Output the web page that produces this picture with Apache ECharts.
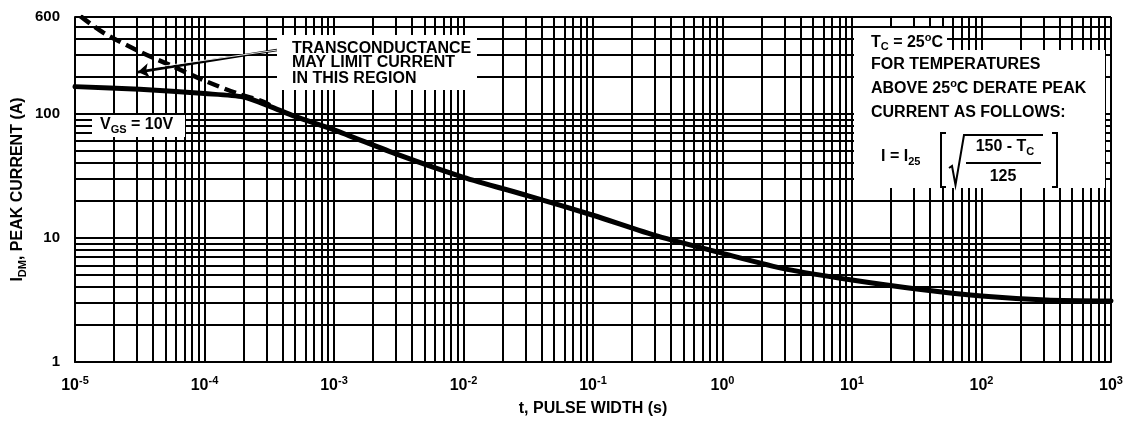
<!DOCTYPE html>
<html>
<head>
<meta charset="utf-8">
<script src="https://cdn.jsdelivr.net/npm/echarts@6/dist/echarts.min.js"></script>
<style>
html,body{margin:0;padding:0;background:#fff;}
#chart{width:1131px;height:424px;}
</style>
</head>
<body>
<div id="chart"></div>
<script>
// ---- data ----
const pulseWidth  = [1e-5, 3.16e-5, 1e-4, 2e-4, 3.16e-4, 5e-4, 1e-3, 3.16e-3, 1e-2, 3.16e-2, 1e-1, 3.16e-1, 1, 3.16, 10, 31.6, 100, 316, 1000];
const peakCurrent = [165, 157, 145, 136, 115, 95, 74, 46.5, 30.7, 21.8, 15.2, 10.3, 7.5, 5.57, 4.57, 3.87, 3.40, 3.16, 3.10];

const limitTime    = [1.1e-5, 1.66e-5, 3.18e-5, 5.42e-5, 9.8e-5, 1.77e-4, 2.83e-4, 3.2e-4];
const limitCurrent = [610, 448, 315, 246, 186, 146, 125, 117];

const arrowFrom = [3.63e-4, 325];
const arrowTo   = [3.06e-5, 216];

const xTickExponents = ['-5', '-4', '-3', '-2', '-1', '0', '1', '2', '3'];
const yTickLabels    = ['1', '10', '100', '600'];

const xMinorGrid = [
  2e-5, 3e-5, 4e-5, 5e-5, 6e-5, 7e-5, 8e-5, 9e-5,
  2e-4, 3e-4, 4e-4, 5e-4, 6e-4, 7e-4, 8e-4, 9e-4,
  2e-3, 3e-3, 4e-3, 5e-3, 6e-3, 7e-3, 8e-3, 9e-3,
  2e-2, 3e-2, 4e-2, 5e-2, 6e-2, 7e-2, 8e-2, 9e-2,
  0.2, 0.3, 0.4, 0.5, 0.6, 0.7, 0.8, 0.9,
  2, 3, 4, 5, 6, 7, 8, 9,
  20, 30, 40, 50, 60, 70, 80, 90,
  200, 300, 400, 500, 600, 700, 800, 900
];
const yMinorGrid = [2, 3, 4, 5, 6, 7, 8, 9, 20, 30, 40, 50, 60, 70, 80, 90, 200, 300, 400, 500];

const xRange = [1e-5, 1e3];
const yRange = [1, 600];

// ---- styling ----
const FF = '"Liberation Sans", Arial, Helvetica, sans-serif';
const bold = (size) => 'bold ' + size + 'px ' + FF;

const chart = echarts.init(document.getElementById('chart'), null, {renderer: 'canvas'});

const gridStyle = {color: '#000', width: 2, type: 'solid'};

const richText = {
  sub: {font: bold(11), fill: '#000', lineHeight: 12, verticalAlign: 'bottom'},
  sup: {font: bold(11), fill: '#000', lineHeight: 12, verticalAlign: 'top'}
};

function txt(x, y, text, align) {
  return {
    type: 'text', x: x, y: y, z: 60, silent: true,
    style: {text: text, font: bold(16), fill: '#000', align: align || 'left', verticalAlign: 'middle', lineHeight: 20, rich: richText}
  };
}
function box(x, y, w, h) {
  return {type: 'rect', z: 50, silent: true, shape: {x: x, y: y, width: w, height: h}, style: {fill: '#fff'}};
}
function poly(points, w) {
  return {type: 'polyline', z: 60, silent: true, shape: {points: points}, style: {stroke: '#000', lineWidth: w || 2, fill: null}};
}

const minorLines = xMinorGrid.map(v => [{coord: [v, yRange[0]]}, {coord: [v, yRange[1]]}])
  .concat(yMinorGrid.map(v => [{coord: [xRange[0], v]}, {coord: [xRange[1], v]}]));

const option = {
  animation: false,
  backgroundColor: '#fff',
  grid: {left: 75, right: 20, top: 17, bottom: 62, containLabel: false, outerBoundsMode: 'none'},
  xAxis: {
    type: 'log', logBase: 10, min: xRange[0], max: xRange[1],
    axisLine: {show: true, onZero: false, lineStyle: {color: '#000', width: 2}},
    axisTick: {show: false},
    splitLine: {show: true, lineStyle: gridStyle},
    axisLabel: {
      interval: 0, margin: 13, showMinLabel: true, showMaxLabel: true,
      formatter: function (v, i) {
        const e = xTickExponents[i] !== undefined ? xTickExponents[i] : String(Math.round(Math.log10(v)));
        return '{b|10}{s|' + e + '}';
      },
      rich: {
        b: {fontFamily: FF, fontWeight: 'bold', fontSize: 16, lineHeight: 22, color: '#000'},
        s: {fontFamily: FF, fontWeight: 'bold', fontSize: 11, lineHeight: 12, verticalAlign: 'top', color: '#000'}
      }
    },
    name: 't, PULSE WIDTH (s)', nameLocation: 'middle', nameGap: 39, nameMoveOverlap: false,
    nameTextStyle: {fontFamily: FF, fontWeight: 'bold', fontSize: 16, color: '#000'}
  },
  yAxis: {
    type: 'log', logBase: 10, min: yRange[0], max: yRange[1],
    axisLine: {show: true, lineStyle: {color: '#000', width: 2}},
    axisTick: {show: false},
    splitLine: {show: true, lineStyle: gridStyle},
    axisLabel: {
      margin: 15, showMinLabel: true, showMaxLabel: true,
      fontFamily: FF, fontWeight: 'bold', fontSize: 15, color: '#000',
      formatter: function (v) {
        const r = String(Math.round(v));
        return yTickLabels.indexOf(r) >= 0 ? r : '';
      }
    },
    name: 'I{sub|DM}, PEAK CURRENT (A)', nameLocation: 'middle', nameGap: 47, nameRotate: 90, nameMoveOverlap: false,
    nameTextStyle: {
      fontFamily: FF, fontWeight: 'bold', fontSize: 16, color: '#000', lineHeight: 20,
      rich: {sub: {fontFamily: FF, fontWeight: 'bold', fontSize: 11, lineHeight: 12, verticalAlign: 'bottom', color: '#000'}}
    }
  },
  series: [
    {
      // minor grid lines
      type: 'line', z: 1, silent: true, symbol: 'none',
      data: pulseWidth.map((t, i) => [t, peakCurrent[i]]),
      lineStyle: {opacity: 0},
      markLine: {
        silent: true, symbol: ['none', 'none'], animation: false, precision: 12,
        label: {show: false},
        lineStyle: gridStyle,
        emphasis: {disabled: true},
        data: minorLines
      }
    },
    {
      name: 'transconductance limit', type: 'line', z: 4, symbol: 'none', smooth: 0.3, clip: true,
      data: limitTime.map((t, i) => [t, limitCurrent[i]]),
      lineStyle: {color: '#000', width: 4.5, type: [12, 6], cap: 'butt'}
    },
    {
      name: 'VGS = 10V', type: 'line', z: 5, symbol: 'none', smooth: 0.25, clip: true,
      data: pulseWidth.map((t, i) => [t, peakCurrent[i]]),
      lineStyle: {color: '#000', width: 5, cap: 'round', join: 'round'}
    },
    {
      // arrow (outer)
      type: 'line', z: 6, symbol: 'none', data: [], silent: true,
      markLine: {
        silent: true, symbol: ['none', 'arrow'], symbolSize: 11, animation: false, precision: 12,
        label: {show: false}, emphasis: {disabled: true},
        lineStyle: {color: '#000', width: 2.6, type: 'solid'},
        data: [[{coord: arrowFrom}, {coord: arrowTo}]]
      }
    },
    {
      // arrow (inner white core)
      type: 'line', z: 7, symbol: 'none', data: [], silent: true,
      markLine: {
        silent: true, symbol: ['none', 'none'], animation: false, precision: 12,
        label: {show: false}, emphasis: {disabled: true},
        lineStyle: {color: '#fff', width: 0.9, type: 'solid'},
        data: [[{coord: arrowFrom}, {coord: [4.6e-5, 240]}]]
      }
    }
  ],
  graphic: [
    // transconductance note
    box(277, 35, 200, 55),
    txt(292, 48.5, 'TRANSCONDUCTANCE'),
    txt(292, 63, 'MAY LIMIT CURRENT'),
    txt(292, 78.5, 'IN THIS REGION'),
    // VGS label
    box(92, 115, 93, 22),
    txt(100, 125, 'V{sub|GS} = 10V'),
    // derating note
    box(854, 50, 251, 138),
    box(854, 28, 93, 24),
    txt(871, 42.5, 'T{sub|C} = 25{sup|o}C'),
    txt(871, 65, 'FOR TEMPERATURES'),
    txt(871, 88.5, 'ABOVE 25{sup|o}C DERATE PEAK'),
    txt(871, 113, 'CURRENT AS FOLLOWS:'),
    txt(881, 157, 'I = I{sub|25}'),
    poly([[946, 133], [941, 133], [941, 187], [946, 187]], 2),
    poly([[1052, 133], [1057, 133], [1057, 187], [1052, 187]], 2),
    poly([[949, 168], [952, 166], [955.5, 185], [964, 135], [1043, 135]], 2),
    poly([[966, 163], [1041, 163]], 2),
    txt(1005, 147, '150 - T{sub|C}', 'center'),
    txt(1003, 177, '125', 'center')
  ]
};

chart.setOption(option);
</script>
</body>
</html>
